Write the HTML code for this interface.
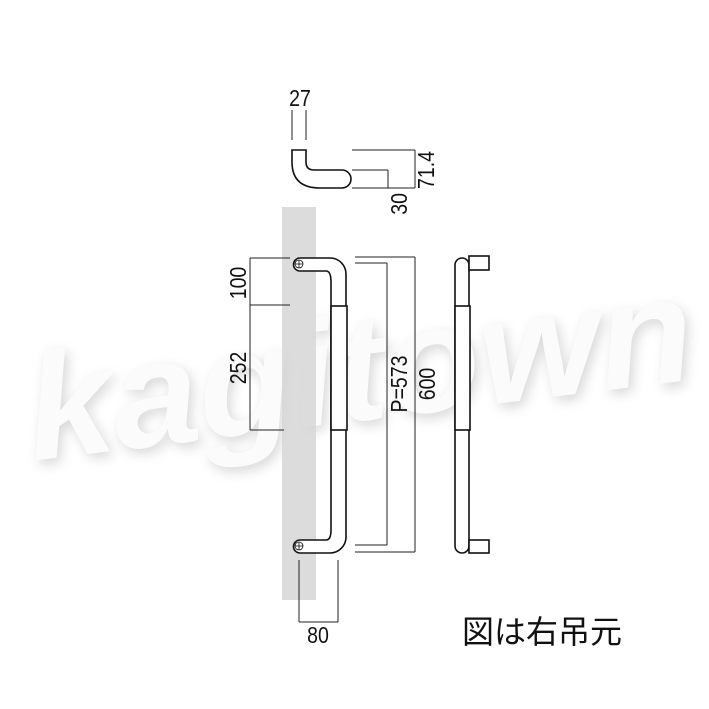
<!DOCTYPE html>
<html><head><meta charset="utf-8"><style>
html,body{margin:0;padding:0;background:#fff;width:709px;height:709px;overflow:hidden}
svg{display:block}
text{font-family:"Liberation Sans","Noto Sans CJK JP",sans-serif;fill:#111}
</style></head><body>
<svg width="709" height="709" viewBox="0 0 709 709" xmlns="http://www.w3.org/2000/svg">
<defs><filter id="b" x="-10%" y="-20%" width="120%" height="140%"><feGaussianBlur stdDeviation="6"/></filter></defs>
<g transform="rotate(-7 360 350)" font-style="italic" font-weight="bold" font-size="150">
<text x="25" y="425" style="fill:#d8d8d8" filter="url(#b)" textLength="670" lengthAdjust="spacingAndGlyphs">kagitown</text>
<text x="22" y="420" style="fill:#fbfbfb" textLength="670" lengthAdjust="spacingAndGlyphs">kagitown</text>
</g>
<rect x="282" y="207" width="34" height="393" fill="#d6d6d6" opacity="0.85"/>
<g fill="none" stroke="#222" stroke-width="1">
<line x1="292" y1="110" x2="292" y2="140"/><line x1="306" y1="110" x2="306" y2="140"/>
<line x1="352" y1="150" x2="415" y2="150"/><line x1="415" y1="150" x2="415" y2="188"/>
<line x1="352" y1="188" x2="415" y2="188"/>
<line x1="352" y1="170" x2="388" y2="170"/><line x1="388" y1="170" x2="388" y2="188"/>
<line x1="250" y1="258" x2="290" y2="258"/><line x1="250" y1="258" x2="250" y2="430"/>
<line x1="250" y1="305" x2="290" y2="305"/><line x1="250" y1="430" x2="284" y2="430"/>
<line x1="355" y1="263" x2="387" y2="263"/><line x1="387" y1="263" x2="387" y2="545"/><line x1="355" y1="545" x2="387" y2="545"/>
<line x1="355" y1="257" x2="415" y2="257"/><line x1="415" y1="257" x2="415" y2="552"/><line x1="355" y1="552" x2="415" y2="552"/>
<line x1="299" y1="560" x2="299" y2="622"/><line x1="338" y1="560" x2="338" y2="622"/><line x1="299" y1="622" x2="338" y2="622"/>
</g>
<g fill="#fff" stroke="#111" stroke-width="1.6">
<path d="M292,150 L306,150 L306,162 Q306,170 314,170 L342,170 A9,9 0 0 1 342,188 L320,188 Q292,188 292,162 Z"/>
<path d="M300,258 L330,258 A16,16 0 0 1 346,274 L346,537 A16,16 0 0 1 330,553 L300,553 A6.5,6.5 0 0 1 300,540 L326,540 Q331,540 331,530 L331,282 Q331,271 326,271 L300,271 A6.5,6.5 0 0 1 300,258 Z"/>
<rect x="331" y="306" width="16" height="124"/>
<path d="M455,265 A7,7 0 0 1 469,265 L469,546 A7,7 0 0 1 455,546 Z"/>
<rect x="469" y="256" width="20" height="14"/>
<rect x="469" y="540" width="20" height="13"/>
<rect x="455" y="306" width="15" height="124"/>
</g>
<g stroke="#111" stroke-width="0.8" fill="none">
<circle cx="299" cy="264" r="4"/><line x1="295" y1="264" x2="303" y2="264"/><line x1="299" y1="260" x2="299" y2="268"/>
<circle cx="299" cy="546" r="4"/><line x1="295" y1="546" x2="303" y2="546"/><line x1="299" y1="542" x2="299" y2="550"/>
</g>
<g font-size="23">
<text transform="translate(300,106) scale(0.85,1)" text-anchor="middle">27</text>
<text transform="translate(407,193) rotate(-90) scale(0.85,1)" text-anchor="end">30</text>
<text transform="translate(434,170) rotate(-90) scale(0.85,1)" text-anchor="middle">71.4</text>
<text transform="translate(246,283) rotate(-90) scale(0.85,1)" text-anchor="middle">100</text>
<text transform="translate(246,368) rotate(-90) scale(0.85,1)" text-anchor="middle">252</text>
<text transform="translate(407,384) rotate(-90) scale(0.85,1)" text-anchor="middle">P=573</text>
<text transform="translate(435,384) rotate(-90) scale(0.85,1)" text-anchor="middle">600</text>
<text transform="translate(318,643) scale(0.85,1)" text-anchor="middle">80</text>
<text x="462" y="643" font-size="32">図は右吊元</text>
</g>
</svg>
</body></html>
